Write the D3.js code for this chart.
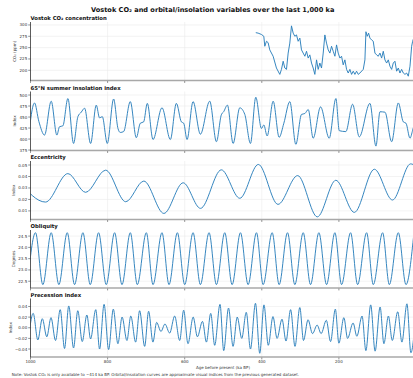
<!DOCTYPE html>
<html><head><meta charset="utf-8">
<script src="https://cdn.jsdelivr.net/npm/d3@7"></script>
<style>body{margin:0;background:#fff} svg{display:block} text{font-family:"DejaVu Sans",sans-serif}</style>
</head><body><svg id="c" width="413" height="378"></svg>
<script>
// ---------- data (age in ka BP) ----------
const ageTicks = [1000, 800, 600, 400, 200, 0];

const co2Age = [415.6,409.6,400.9,394.8,392.2,387.9,383.6,379.3,370.6,362.0,353.3,349.0,344.6,340.3,336.0,331.6,327.3,323.0,318.6,314.3,310.0,305.7,301.3,297.0,292.7,288.3,284.0,279.7,275.4,271.0,266.7,262.4,258.0,253.7,249.4,245.1,240.7,236.4,232.1,227.7,223.4,219.1,214.8,210.4,206.1,201.8,197.4,193.1,188.8,184.5,180.1,175.8,171.5,167.1,162.8,158.5,154.2,149.8,145.5,136.8,132.5,129.9,126.5,123.0,119.5,115.2,110.9,106.5,102.2,97.9,93.5,89.2,84.9,80.6,76.2,71.9,67.6,63.2,58.9,54.6,50.2,45.9,41.6,37.3,32.9,28.6,24.3,20.0,15.6,11.3,8.7,4.0,2.3];
const co2Ppm = [283,282,279,275,253,264,261,245,231,205,191,202,220,205,202,238,260,298,282,275,278,264,271,245,238,231,242,227,234,216,205,191,223,202,216,205,238,278,260,245,238,253,242,231,256,238,227,231,212,223,202,194,202,191,198,191,198,191,194,202,223,285,275,282,271,267,264,238,234,231,238,227,242,223,216,223,209,202,216,220,198,205,194,202,194,191,194,187,209,253,264,276,284];
const co2Ticks = [200, 225, 250, 275, 300];

const insolAge = [1006,989.6,978.3,963.6,946.3,931.6,924.7,916,903,888.3,877,868.4,859.7,844.1,829.4,820.8,813.8,800.8,784.4,773.1,767.1,758.4,741.1,725.5,715.1,706.5,697,682.2,658.9,637.2,621.6,608.6,602.6,593.9,578.3,559.3,535.1,517.7,505,499,489.2,474.4,457.1,444.1,429.4,415.6,400.9,394.8,386.1,370.5,355,342.8,327.3,311.7,297,288.3,279.6,266.7,247.6,225.1,207.8,199,182,164.5,147.2,119.5,103.9,93.5,80.5,63.2,45.9,32.9,26,15.6,8.7,0];
const insolVal = [398,482,440,409,486,409,428,430,492,390,451,461,470,390,477,448,451,390,491,424,415,417,485,403,436,439,481,399,471,399,481,439,436,399,485,411,486,394,455,462,477,390,471,456,390,495,424,432,407,486,404,436,485,388,456,458,467,402,473,402,492,419,417,479,405,481,384,462,461,394,482,439,436,402,420,450];
const insolTicks = [375, 400, 425, 450, 475, 500];

const eccAge = [1030,961,903,857,805,753,706,654,604,559,505,457,409,358,307,256,208,160,108,61,14,-10];
const eccVal = [0.036,0.0177,0.0425,0.0262,0.0455,0.0180,0.0360,0.0078,0.0345,0.0122,0.0458,0.0210,0.0505,0.0157,0.0408,0.0048,0.0367,0.0087,0.0463,0.0195,0.0510,0.045];
const eccTicks = [0.01, 0.02, 0.03, 0.04, 0.05];

const oblAge = [1008,987.0,968.0,946.3,926.4,904.7,885.7,864.0,845.0,823.4,803.5,781.8,762.7,741.1,722.9,699.5,682.2,658.9,640.7,619.0,600.0,578.3,559.3,536.8,517.7,496.1,477.0,455.4,435.5,413.8,396.5,373.1,355.0,333.3,314.3,292.6,273.6,251.9,232.0,210.4,193.1,169.7,151.5,128.1,110.8,86.6,69.2,45.9,26.0,5.3];
const oblVal = [22.35,24.65,22.35,24.65,22.35,24.65,22.35,24.65,22.35,24.65,22.35,24.65,22.35,24.65,22.35,24.65,22.35,24.65,22.35,24.65,22.35,24.65,22.35,24.65,22.35,24.65,22.35,24.65,22.35,24.65,22.35,24.65,22.35,24.65,22.35,24.65,22.35,24.65,22.35,24.65,22.35,24.65,22.35,24.65,22.35,24.65,22.35,24.65,22.35,24.65];
const oblTicks = [22.5, 23.0, 23.5, 24.0, 24.5];

const precAge = [1005.2,993.0,981.0,969.4,957.7,946.8,935.1,922.9,911.7,900.8,888.3,877.4,865.7,853.8,844.2,830.7,820.8,809.1,797.4,785.2,773.3,762.4,749.9,739.8,727.3,716.9,703.9,693.6,682.4,672.8,661.6,651.2,639.0,626.0,613.0,602.7,591.5,578.0,567.1,553.8,543.7,532.5,522.2,508.4,498.8,486.3,474.6,463.7,452.0,440.3,429.4,416.4,405.3,394.4,383.2,371.0,360.4,347.6,337.2,325.3,313.9,301.4,291.8,280.1,268.4,256.5,246.1,232.6,221.7,209.2,200.1,187.1,177.5,163.2,153.4,139.9,130.0,117.5,106.1,93.1,83.3,71.6,61.5,47.4,36.5,23.5,13.2,0.2];
const precVal = [-0.020,0.027,-0.023,0.017,-0.017,0.019,-0.024,0.034,-0.039,0.041,-0.038,0.032,-0.026,0.024,-0.021,0.034,-0.040,0.044,-0.041,0.035,-0.030,0.020,-0.024,0.022,-0.027,0.032,-0.035,0.031,-0.027,0.010,-0.007,0.007,-0.010,0.022,-0.024,0.033,-0.030,0.020,-0.017,0.012,-0.027,0.027,-0.033,0.044,-0.043,0.037,-0.035,0.020,-0.020,0.029,-0.040,0.046,-0.048,0.043,-0.033,0.021,-0.020,0.016,-0.025,0.034,-0.035,0.038,-0.024,0.015,-0.011,0.005,-0.011,0.014,-0.026,0.035,-0.029,0.019,-0.020,0.009,-0.016,0.022,-0.043,0.043,-0.044,0.039,-0.030,0.022,-0.024,0.030,-0.027,0.045,-0.047,0.030];
const precTicks = [-0.04, -0.02, 0.00, 0.02, 0.04];

// ---------- layout ----------
const svg = d3.select("#c");
const LEFT = 30.5, RIGHT = 416, EDGE = 413;
const x = d3.scaleLinear().domain([1000, 0]).range([LEFT, RIGHT]);
const minus = s => s.replace("-", "\u2212");

const panels = [
  {title:"Vostok CO\u2082 concentration", ylab:"CO\u2082 (ppm)", labX:14, top:22, bot:80.5, dom:[177.5,306.5], ticks:co2Ticks, fmt:d=>String(d), ages:co2Age, vals:co2Ppm, curve:d3.curveLinear},
  {title:"65\u00b0N summer insolation index", ylab:"Index", labX:14.5, top:91.5, bot:150.5, dom:[374,508], ticks:insolTicks, fmt:d=>String(d), ages:insolAge, vals:insolVal, curve:d3.curveMonotoneX},
  {title:"Eccentricity", ylab:"Index", labX:13.5, top:161, bot:219.5, dom:[0.0025,0.0535], ticks:eccTicks, fmt:d3.format(".2f"), ages:eccAge, vals:eccVal, curve:d3.curveMonotoneX},
  {title:"Obliquity", ylab:"Degrees", labX:13.5, top:230, bot:288, dom:[22.2,24.77], ticks:oblTicks, fmt:d3.format(".1f"), ages:oblAge, vals:oblVal, curve:d3.curveMonotoneX},
  {title:"Precession index", ylab:"Index", labX:10.5, top:298.5, bot:357, dom:[-0.055,0.055], ticks:precTicks, fmt:d=>minus(d3.format(".2f")(d)), ages:precAge, vals:precVal, curve:d3.curveMonotoneX}
];

svg.append("text").attr("x", 212.7).attr("y", 10).attr("text-anchor","middle")
  .attr("dominant-baseline","central").attr("font-size",6.6).attr("font-weight","bold").attr("fill","#111")
  .text("Vostok CO\u2082 and orbital/insolation variables over the last 1,000 ka");

const defs = svg.append("defs");

panels.forEach((p, i) => {
  const y = d3.scaleLinear().domain(p.dom).range([p.bot, p.top]);
  const g = svg.append("g");
  // grid
  g.selectAll(".hg").data(p.ticks).join("line")
    .attr("x1", LEFT).attr("x2", EDGE).attr("y1", d=>y(d)).attr("y2", d=>y(d))
    .attr("stroke","#ebebeb").attr("stroke-width",0.6);
  g.selectAll(".vg").data(ageTicks.filter(a=>a<1000 && x(a)<EDGE)).join("line")
    .attr("x1", d=>x(d)).attr("x2", d=>x(d)).attr("y1", p.top).attr("y2", p.bot)
    .attr("stroke","#ebebeb").attr("stroke-width",0.6);
  // title
  g.append("text").attr("x", LEFT).attr("y", p.top - 2).attr("font-size",5.3)
    .attr("font-weight","bold").attr("fill","#111").text(p.title);
  // y label
  g.append("text").attr("transform",`translate(${p.labX},${(p.top+p.bot)/2}) rotate(-90)`)
    .attr("text-anchor","middle").attr("dominant-baseline","central")
    .attr("font-size",4).attr("fill","#333").text(p.ylab);
  // y ticks
  const yt = g.selectAll(".yt").data(p.ticks).join("g");
  yt.append("line").attr("x1",LEFT-2.3).attr("x2",LEFT).attr("y1",d=>y(d)).attr("y2",d=>y(d))
    .attr("stroke","#444").attr("stroke-width",0.6);
  yt.append("text").attr("x",LEFT-3.3).attr("y",d=>y(d)).attr("text-anchor","end")
    .attr("dominant-baseline","central").attr("font-size",4).attr("fill","#333").text(p.fmt);
  // clip + line
  defs.append("clipPath").attr("id","cp"+i).append("rect")
    .attr("x",LEFT).attr("y",p.top-3).attr("width",RIGHT-LEFT).attr("height",p.bot-p.top+3);
  const pts = d3.zip(p.ages, p.vals);
  const line = d3.line().x(d=>x(d[0])).y(d=>y(d[1])).curve(p.curve);
  g.append("path").attr("clip-path",`url(#cp${i})`).attr("d", line(pts))
    .attr("fill","none").attr("stroke","#2b7fbc").attr("stroke-width",0.95).attr("stroke-linejoin","round");
  // spines
  g.append("line").attr("x1",LEFT).attr("x2",EDGE).attr("y1",p.bot).attr("y2",p.bot)
    .attr("stroke","#a8a8a8").attr("stroke-width",1.3);
  g.append("line").attr("x1",LEFT).attr("x2",LEFT).attr("y1",p.top).attr("y2",p.bot+0.6)
    .attr("stroke","#333").attr("stroke-width",0.8);
  // x tick marks
  const vis = ageTicks.filter(a => x(a) < EDGE);
  g.selectAll(".xt").data(vis).join("line")
    .attr("x1",d=>x(d)).attr("x2",d=>x(d)).attr("y1",p.bot+0.6).attr("y2",p.bot+2.4)
    .attr("stroke","#444").attr("stroke-width",0.6);
  if (i === panels.length - 1) {
    g.selectAll(".xl").data(vis).join("text")
      .attr("x",d=>x(d)).attr("y",p.bot+4.6).attr("text-anchor","middle")
      .attr("dominant-baseline","central").attr("font-size",4).attr("fill","#333").text(d=>d);
  }
});

svg.append("text").attr("x",223).attr("y",367.2).attr("text-anchor","middle")
  .attr("dominant-baseline","central").attr("font-size",4).attr("fill","#333")
  .text("Age before present (ka BP)");
svg.append("text").attr("x",11.7).attr("y",374.6)
  .attr("dominant-baseline","central").attr("font-size",4).attr("fill","#333")
  .text("Note: Vostok CO\u2082 is only available to ~414 ka BP. Orbital/insolation curves are approximate visual indices from the previous generated dataset.");
</script></body></html>
